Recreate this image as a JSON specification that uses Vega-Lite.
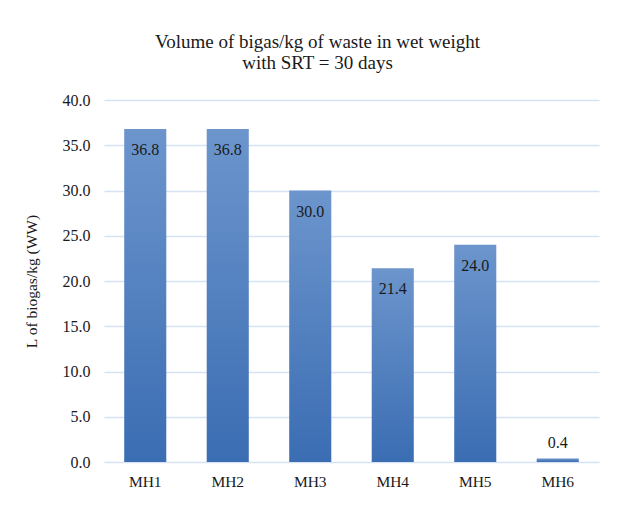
{
  "$schema": "https://vega.github.io/schema/vega-lite/v6.json",
  "autosize": {"type": "none"},
  "padding": {"left": 104, "top": 100, "right": 22, "bottom": 62},
  "width": 495,
  "height": 362,
  "background": "white",
  "title": {
    "text": ["Volume of bigas/kg of waste in wet weight", "with SRT = 30 days"],
    "font": "Liberation Serif",
    "fontSize": 19,
    "fontWeight": "normal",
    "color": "#1a1a1a",
    "anchor": "middle",
    "dx": -34,
    "offset": 19,
    "lineHeight": 21
  },
  "data": {
    "values": [
      {"sample": "MH1", "value": 36.8},
      {"sample": "MH2", "value": 36.8},
      {"sample": "MH3", "value": 30.0},
      {"sample": "MH4", "value": 21.4},
      {"sample": "MH5", "value": 24.0},
      {"sample": "MH6", "value": 0.4}
    ]
  },
  "encoding": {
    "x": {
      "field": "sample",
      "type": "nominal",
      "sort": null,
      "scale": {"paddingInner": 0.49, "paddingOuter": 0.245},
      "axis": {
        "title": null,
        "labelAngle": 0,
        "labelFont": "Liberation Serif",
        "labelFontSize": 15.5,
        "labelColor": "#1a1a1a",
        "labelPadding": 12,
        "ticks": false,
        "domain": false,
        "grid": false
      }
    },
    "y": {
      "field": "value",
      "type": "quantitative",
      "scale": {"domain": [0, 40], "nice": false},
      "axis": {
        "title": "L of biogas/kg (WW)",
        "titleFont": "Liberation Serif",
        "titleFontSize": 15.5,
        "titleFontWeight": "normal",
        "titleColor": "#1a1a1a",
        "titleX": -73,
        "titleY": 181,
        "titleAngle": -90,
        "titleAlign": "center",
        "titleBaseline": "middle",
        "values": [0, 5, 10, 15, 20, 25, 30, 35, 40],
        "format": ".1f",
        "labelFont": "Liberation Serif",
        "labelFontSize": 16,
        "labelColor": "#1a1a1a",
        "labelPadding": 14,
        "ticks": false,
        "domain": false,
        "grid": true,
        "gridColor": "#d6e1f1",
        "gridWidth": 1.3
      }
    }
  },
  "layer": [
    {
      "mark": {
        "type": "bar",
        "color": {
          "gradient": "linear",
          "x1": 0, "y1": 0, "x2": 0, "y2": 1,
          "stops": [
            {"offset": 0, "color": "#6c95cc"},
            {"offset": 1, "color": "#3b6db3"}
          ]
        }
      }
    },
    {
      "transform": [{"filter": "datum.value >= 5"}],
      "mark": {
        "type": "text",
        "font": "Liberation Serif",
        "fontSize": 16,
        "color": "#1a1a1a",
        "baseline": "alphabetic",
        "dy": 26
      },
      "encoding": {"text": {"field": "value", "type": "quantitative", "format": ".1f"}}
    },
    {
      "transform": [{"filter": "datum.value < 5"}],
      "mark": {
        "type": "text",
        "font": "Liberation Serif",
        "fontSize": 16,
        "color": "#1a1a1a",
        "baseline": "alphabetic",
        "dy": -10
      },
      "encoding": {"text": {"field": "value", "type": "quantitative", "format": ".1f"}}
    }
  ],
  "config": {"view": {"stroke": null}}
}
